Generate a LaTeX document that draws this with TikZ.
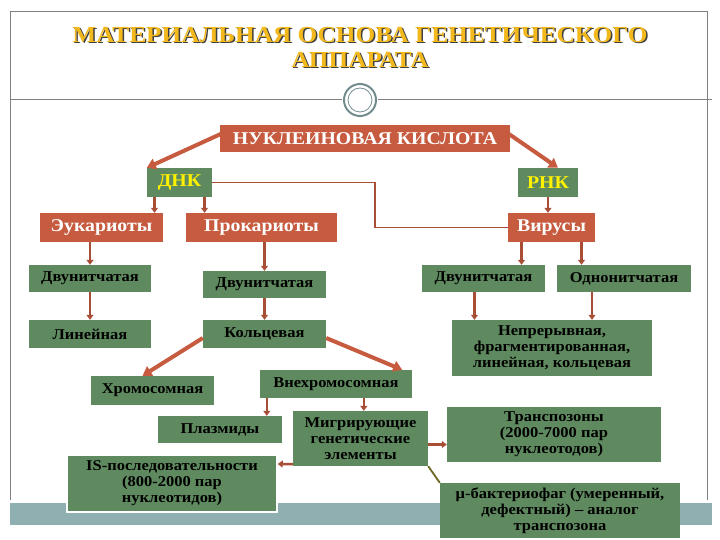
\documentclass[tikz,border=0pt]{standalone}
\usepackage{fontspec}
\setmainfont{Liberation Serif}
\newfontfamily\widefont{Liberation Serif}[FakeStretch=1.1]
\usetikzlibrary{arrows.meta}
\definecolor{brick}{HTML}{C65B3F}
\definecolor{leaf}{HTML}{5F8A5F}
\definecolor{band}{HTML}{8FAFB0}
\definecolor{gold}{HTML}{F2B81C}

\tikzset{
    redbox/.style={fill=brick, text=white, font=\widefont\fontsize{18}{20}\selectfont\bfseries, inner sep=0pt},
    greenbox/.style={fill=leaf, text=black, font=\widefont\fontsize{15}{16}\selectfont\bfseries, inner sep=0pt, align=center},
    arr/.style={-{Triangle[length=5pt,width=7pt]}, draw=brick!85!black, line width=2.5pt},
    bigarr/.style={-{Triangle[length=9pt,width=11pt]}, draw=brick, line width=4pt},
}
\newcommand{\pbox}[6]{% name, style, x1, y1, x2, y2
    \node[#2, minimum width=#5-#3, minimum height=#6-#4] (#1) at ({(#3+#5)/2},{(#4+#6)/2})}

\begin{document}
\begin{tikzpicture}[x=1pt, y=-1pt]
    \useasboundingbox (0,0) rectangle (720,540);

    % frame
    \fill[band] (10,503) rectangle (712,525);
    \draw[gray, line width=1pt] (10,500) -- (10,12) -- (707,12) -- (707,500);
    \draw[gray, line width=1pt] (10,100) -- (342,100);
    \draw[gray, line width=1pt] (378,100) -- (712,100);
    \draw[band!80!black, line width=2pt] (360,100) circle (16);
    \draw[band!80!black, line width=0.8pt] (360,100) circle (12);

    % title
    \foreach \dx/\col in {1.5/black!75, 0/gold} {
        \node[text=\col, font=\widefont\fontsize{23}{25}\selectfont\bfseries, align=center]
            at (360+\dx,47+\dx) {МАТЕРИАЛЬНАЯ ОСНОВА ГЕНЕТИЧЕСКОГО\\АППАРАТА};
    }

    % boxes
    \pbox{nk}{redbox}{220}{125}{510}{152} {НУКЛЕИНОВАЯ КИСЛОТА};
    \pbox{dnk}{redbox, fill=leaf, text=yellow}{147}{168}{212}{197} {ДНК};
    \pbox{rnk}{redbox, fill=leaf, text=yellow}{518}{168}{578}{197} {РНК};
    \pbox{euk}{redbox}{40}{213}{163}{242} {Эукариоты};
    \pbox{prok}{redbox}{186}{213}{337}{242} {Прокариоты};
    \pbox{vir}{redbox}{508}{213}{595}{242} {Вирусы};

    \pbox{dve}{greenbox}{29}{265}{151}{292} {Двунитчатая};
    \pbox{dvp}{greenbox}{203}{271}{326}{298} {Двунитчатая};
    \pbox{dvv}{greenbox}{422}{265}{545}{292} {Двунитчатая};
    \pbox{odn}{greenbox}{557}{265}{691}{292} {Однонитчатая};
    \pbox{lin}{greenbox}{29}{320}{151}{348} {Линейная};
    \pbox{kol}{greenbox}{203}{320}{326}{348} {Кольцевая};
    \pbox{nepr}{greenbox}{452}{320}{652}{376} {Непрерывная,\\фрагментированная,\\линейная, кольцевая};
    \pbox{hrom}{greenbox}{91}{376}{214}{405} {Хромосомная};
    \pbox{vneh}{greenbox}{260}{370}{412}{398} {Внехромосомная};
    \pbox{plaz}{greenbox}{158}{416}{282}{443} {Плазмиды};
    \pbox{migr}{greenbox}{293}{411}{428}{466} {Мигрирующие\\генетические\\элементы};
    \pbox{trans}{greenbox}{447}{407}{661}{462} {Транспозоны\\(2000-7000 пар\\нуклеотодов)};
    \pbox{is}{greenbox, draw=white, line width=1.5pt}{67}{455}{277}{512} {IS-последовательности\\(800-2000 пар\\нуклеотидов)};
    \pbox{mu}{greenbox}{440}{483}{680}{538} {μ-бактериофаг (умеренный,\\дефектный) – аналог\\транспозона};

    % connectors
    \draw[bigarr] (nk.west) ++(2,-5) -- (dnk.north west);
    \draw[bigarr] (nk.east) ++(-2,-5) -- ([xshift=10pt]rnk.north);
    \draw[brick!85!black, line width=1.8pt] (dnk.east) -- (dnk.east -| 375,0) |- (vir.west);
    \draw[arr] ([xshift=-25pt]dnk.south) -- ([xshift=-25pt]dnk.south |- euk.north);
    \draw[arr] ([xshift=25pt]dnk.south) -- ([xshift=25pt]dnk.south |- prok.north);
    \draw[arr] (rnk.south) -- (rnk.south |- vir.north);
    \draw[arr] ([xshift=-30pt]vir.south) -- ([xshift=-30pt]vir.south |- dvv.north);
    \draw[arr] ([xshift=30pt]vir.south) -- ([xshift=30pt]vir.south |- odn.north);
    \draw[arr] (euk.south -| dve.north) -- (dve.north);
    \draw[arr] (prok.south -| dvp.north) -- (dvp.north);
    \draw[arr] (dve.south) -- (lin.north);
    \draw[arr] (dvp.south) -- (kol.north);
    \draw[arr] ([xshift=-9pt]dvv.south) -- ([xshift=-9pt]dvv.south |- nepr.north);
    \draw[arr] ([xshift=-32pt]odn.south) -- ([xshift=-32pt]odn.south |- nepr.north);
    \draw[bigarr] ([yshift=-4pt]kol.west) -- ([xshift=-10pt]hrom.north);
    \draw[bigarr] ([yshift=-4pt]kol.east) -- ([xshift=-10pt]vneh.north east);
    \draw[arr] ([xshift=7pt]vneh.south west) -- ([xshift=7pt]vneh.south west |- plaz.north);
    \draw[arr] ([xshift=104pt]vneh.south west) -- ([xshift=104pt]vneh.south west |- migr.north);
    \draw[arr] ([yshift=-6pt]migr.east) -- ([yshift=-6pt]migr.east -| trans.west);
    \draw[arr] (migr.south west) ++(0,-2) -- (is.east |- 0,464);
    \draw[olive!70!black, line width=1.8pt] (migr.south east) -- (mu.north west);
\end{tikzpicture}
\end{document}
